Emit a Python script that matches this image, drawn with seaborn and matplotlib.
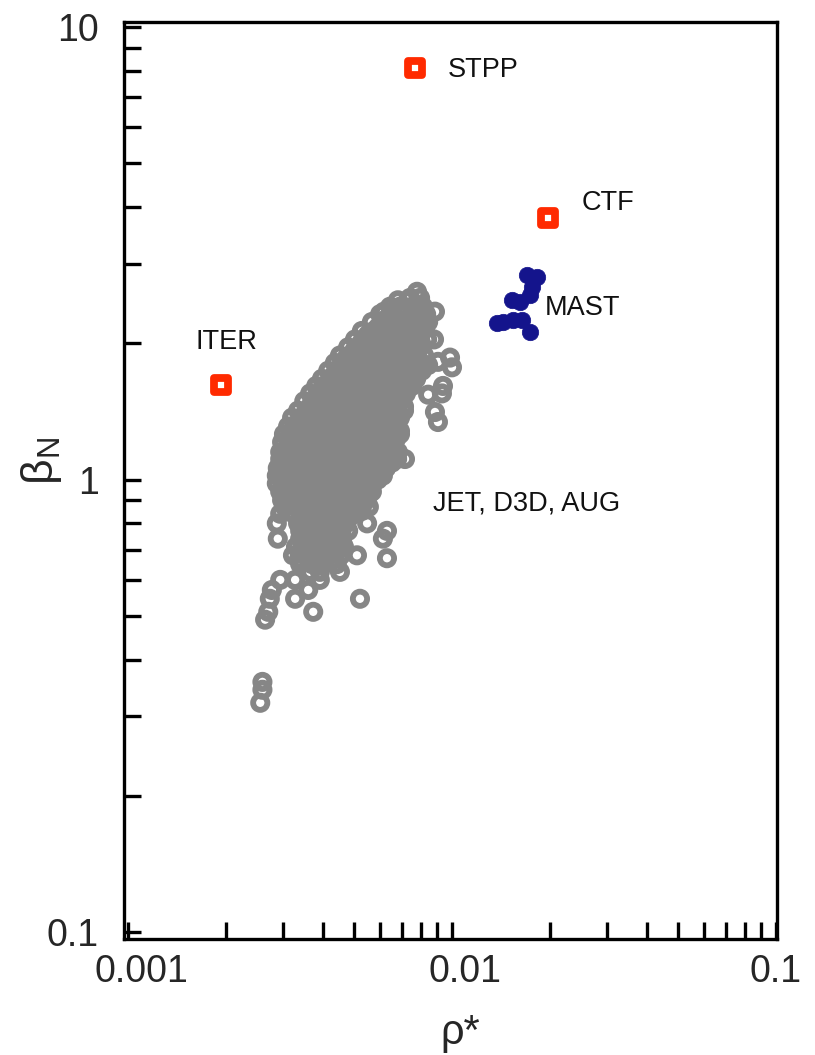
import matplotlib
matplotlib.use("Agg")
import matplotlib.pyplot as plt
import matplotlib.ticker as mticker
import matplotlib.transforms as mtransforms
import seaborn as sns
import numpy as np

# Conventional tokamak database (JET, DIII-D, ASDEX Upgrade): rho* and beta_N
rho_jet = [
    0.00780,
    0.00742, 0.00797,
    0.00681, 0.00732,
    0.00644, 0.00691, 0.00753, 0.00814,
    0.00617, 0.00886,
    0.00600, 0.00653, 0.00711, 0.00775, 0.00832,
    0.00566, 0.00617, 0.00672, 0.00732, 0.00797, 0.00844,
    0.00527, 0.00574, 0.00626, 0.00681, 0.00742, 0.00808,
    0.00502, 0.00547, 0.00595, 0.00648, 0.00706, 0.00769, 0.00838, 0.00880,
    0.00478, 0.00520, 0.00566, 0.00617, 0.00672, 0.00732, 0.00797,
    0.00451, 0.00491, 0.00535, 0.00583, 0.00635, 0.00691, 0.00753, 0.00820,
    0.00905, 0.00986, 0.01000, 0.00844,
    0.00435, 0.00471, 0.00513, 0.00558, 0.00608, 0.00662, 0.00721, 0.00786,
    0.00415, 0.00451, 0.00491, 0.00535, 0.00583, 0.00635, 0.00691, 0.00753, 0.00808,
    0.00397, 0.00432, 0.00471, 0.00513, 0.00558, 0.00608, 0.00662, 0.00721, 0.00775,
    0.00381, 0.00415, 0.00451, 0.00491, 0.00535, 0.00583, 0.00635, 0.00691, 0.00753, 0.00938,
    0.00365, 0.00397, 0.00432, 0.00471, 0.00513, 0.00558, 0.00608, 0.00662, 0.00721, 0.00844, 0.00931,
    0.00350, 0.00381, 0.00415, 0.00451, 0.00491, 0.00535, 0.00583, 0.00635, 0.00691,
    0.00335, 0.00365, 0.00397, 0.00432, 0.00471, 0.00513, 0.00558, 0.00608, 0.00662, 0.00711, 0.00886,
    0.00321, 0.00350, 0.00381, 0.00415, 0.00451, 0.00491, 0.00535, 0.00583, 0.00635, 0.00691,
    0.00905,
    0.00312, 0.00340, 0.00370, 0.00402, 0.00438, 0.00478, 0.00520, 0.00566, 0.00617, 0.00672,
    0.00303, 0.00330, 0.00360, 0.00391, 0.00426, 0.00464, 0.00505, 0.00550, 0.00600, 0.00653, 0.00691,
    0.00299, 0.00325, 0.00355, 0.00386, 0.00420, 0.00458, 0.00498, 0.00543, 0.00591, 0.00644,
    0.00295, 0.00321, 0.00350, 0.00381, 0.00415, 0.00451, 0.00491, 0.00535, 0.00583, 0.00635, 0.00681,
    0.00295, 0.00321, 0.00350, 0.00381, 0.00415, 0.00451, 0.00491, 0.00535, 0.00583, 0.00635, 0.00677, 0.00716,
    0.00290, 0.00316, 0.00345, 0.00375, 0.00409, 0.00444, 0.00484, 0.00527, 0.00574, 0.00626,
    0.00288, 0.00314, 0.00342, 0.00373, 0.00406, 0.00441, 0.00481, 0.00524, 0.00570, 0.00612,
    0.00288, 0.00314, 0.00342, 0.00373, 0.00406, 0.00441, 0.00481, 0.00524, 0.00570,
    0.00295, 0.00321, 0.00350, 0.00381, 0.00415, 0.00451, 0.00491, 0.00535, 0.00566,
    0.00299, 0.00325, 0.00355, 0.00386, 0.00420, 0.00458, 0.00498, 0.00543,
    0.00305, 0.00332, 0.00362, 0.00394, 0.00429, 0.00468, 0.00509, 0.00554,
    0.00295, 0.00325, 0.00355, 0.00386, 0.00420, 0.00458, 0.00498,
    0.00288, 0.00335, 0.00365, 0.00397, 0.00432, 0.00471, 0.00547,
    0.00340, 0.00370, 0.00402, 0.00438, 0.00478, 0.00630,
    0.00290, 0.00340, 0.00370, 0.00402, 0.00438, 0.00612,
    0.00330, 0.00360, 0.00391, 0.00426, 0.00464,
    0.00323, 0.00352, 0.00383, 0.00418, 0.00454, 0.00509, 0.00630,
    0.00340, 0.00370, 0.00402, 0.00441,
    0.00365, 0.00391, 0.00451,
    0.00295, 0.00328, 0.00391,
    0.00278, 0.00360,
    0.00274, 0.00328, 0.00520,
    0.00271, 0.00373,
    0.00265,
    0.00260, 0.00260, 0.00256,
]
beta_jet = [
    2.60,
    2.52, 2.52,
    2.49, 2.49,
    2.41, 2.41, 2.41, 2.41,
    2.35, 2.35,
    2.32, 2.32, 2.32, 2.32, 2.32,
    2.23, 2.23, 2.23, 2.23, 2.23, 2.23,
    2.13, 2.13, 2.13, 2.13, 2.13, 2.13,
    2.04, 2.04, 2.04, 2.04, 2.04, 2.04, 2.04, 2.04,
    1.96, 1.96, 1.96, 1.96, 1.96, 1.96, 1.96,
    1.88, 1.88, 1.88, 1.88, 1.88, 1.88, 1.88, 1.88,
    1.82, 1.86, 1.77, 1.79,
    1.81, 1.81, 1.81, 1.81, 1.81, 1.81, 1.81, 1.81,
    1.74, 1.74, 1.74, 1.74, 1.74, 1.74, 1.74, 1.74, 1.74,
    1.67, 1.67, 1.67, 1.67, 1.67, 1.67, 1.67, 1.67, 1.67,
    1.61, 1.61, 1.61, 1.61, 1.61, 1.61, 1.61, 1.61, 1.61, 1.61,
    1.55, 1.55, 1.55, 1.55, 1.55, 1.55, 1.55, 1.55, 1.55, 1.54, 1.55,
    1.49, 1.49, 1.49, 1.49, 1.49, 1.49, 1.49, 1.49, 1.49,
    1.42, 1.42, 1.42, 1.42, 1.42, 1.42, 1.42, 1.42, 1.42, 1.42, 1.41,
    1.37, 1.37, 1.37, 1.37, 1.37, 1.37, 1.37, 1.37, 1.37, 1.37,
    1.34,
    1.31, 1.31, 1.31, 1.31, 1.31, 1.31, 1.31, 1.31, 1.31, 1.31,
    1.26, 1.26, 1.26, 1.26, 1.26, 1.26, 1.26, 1.26, 1.26, 1.26, 1.26,
    1.21, 1.21, 1.21, 1.21, 1.21, 1.21, 1.21, 1.21, 1.21, 1.21,
    1.15, 1.15, 1.15, 1.15, 1.15, 1.15, 1.15, 1.15, 1.15, 1.15, 1.15,
    1.11, 1.11, 1.11, 1.11, 1.11, 1.11, 1.11, 1.11, 1.11, 1.11, 1.11, 1.11,
    1.06, 1.06, 1.06, 1.06, 1.06, 1.06, 1.06, 1.06, 1.06, 1.06,
    1.02, 1.02, 1.02, 1.02, 1.02, 1.02, 1.02, 1.02, 1.02, 1.02,
    0.98, 0.98, 0.98, 0.98, 0.98, 0.98, 0.98, 0.98, 0.98,
    0.94, 0.94, 0.94, 0.94, 0.94, 0.94, 0.94, 0.94, 0.94,
    0.90, 0.90, 0.90, 0.90, 0.90, 0.90, 0.90, 0.90,
    0.87, 0.87, 0.87, 0.87, 0.87, 0.87, 0.87, 0.87,
    0.84, 0.84, 0.84, 0.84, 0.84, 0.84, 0.84,
    0.80, 0.80, 0.80, 0.80, 0.80, 0.80, 0.80,
    0.77, 0.77, 0.77, 0.77, 0.77, 0.77,
    0.74, 0.74, 0.74, 0.74, 0.74, 0.74,
    0.71, 0.71, 0.71, 0.71, 0.71,
    0.68, 0.68, 0.68, 0.68, 0.68, 0.68, 0.67,
    0.65, 0.65, 0.65, 0.65,
    0.625, 0.625, 0.625,
    0.60, 0.60, 0.60,
    0.57, 0.57,
    0.545, 0.545, 0.545,
    0.51, 0.51,
    0.49,
    0.357, 0.343, 0.321,
]

# Further discharges from the same database, filling the dense core
rho_jet_core = [
    0.00626, 0.00681, 0.00742, 0.00803,
    0.00591, 0.00644, 0.00701, 0.00764, 0.00826,
    0.00550, 0.00600, 0.00653, 0.00711, 0.00775,
    0.00524, 0.00570, 0.00621, 0.00677, 0.00737, 0.00803,
    0.00498, 0.00543, 0.00591, 0.00644, 0.00701, 0.00764,
    0.00471, 0.00513, 0.00558, 0.00608, 0.00662, 0.00721, 0.00786,
    0.00454, 0.00491, 0.00535, 0.00583, 0.00635, 0.00691, 0.00753,
    0.00432, 0.00471, 0.00513, 0.00558, 0.00608, 0.00662, 0.00721, 0.00775,
    0.00415, 0.00451, 0.00491, 0.00535, 0.00583, 0.00635, 0.00691, 0.00747,
    0.00397, 0.00432, 0.00471, 0.00513, 0.00558, 0.00608, 0.00662, 0.00721,
    0.00381, 0.00415, 0.00451, 0.00491, 0.00535, 0.00583, 0.00635, 0.00691,
    0.00365, 0.00397, 0.00432, 0.00471, 0.00513, 0.00558, 0.00608, 0.00662, 0.00711,
    0.00350, 0.00381, 0.00415, 0.00451, 0.00491, 0.00535, 0.00583, 0.00635, 0.00691,
    0.00335, 0.00365, 0.00397, 0.00432, 0.00471, 0.00513, 0.00558, 0.00608, 0.00662,
    0.00325, 0.00355, 0.00386, 0.00420, 0.00458, 0.00498, 0.00543, 0.00591, 0.00644, 0.00691,
    0.00316, 0.00345, 0.00375, 0.00409, 0.00444, 0.00484, 0.00527, 0.00574, 0.00626, 0.00672,
    0.00312, 0.00340, 0.00370, 0.00402, 0.00438, 0.00478, 0.00520, 0.00566, 0.00617, 0.00662,
    0.00307, 0.00335, 0.00365, 0.00397, 0.00432, 0.00471, 0.00513, 0.00558, 0.00608, 0.00662,
    0.00307, 0.00335, 0.00365, 0.00397, 0.00432, 0.00471, 0.00513, 0.00558, 0.00608, 0.00653,
    0.00303, 0.00330, 0.00360, 0.00391, 0.00426, 0.00464, 0.00505, 0.00550, 0.00600,
    0.00301, 0.00328, 0.00357, 0.00389, 0.00423, 0.00461, 0.00502, 0.00547, 0.00591,
    0.00301, 0.00328, 0.00357, 0.00389, 0.00423, 0.00461, 0.00502, 0.00547,
    0.00307, 0.00335, 0.00365, 0.00397, 0.00432, 0.00471, 0.00513, 0.00550,
    0.00312, 0.00340, 0.00370, 0.00402, 0.00438, 0.00478, 0.00520,
    0.00318, 0.00347, 0.00378, 0.00412, 0.00448, 0.00488, 0.00527,
    0.00340, 0.00370, 0.00402, 0.00438, 0.00478,
    0.00350, 0.00381, 0.00415, 0.00451,
    0.00355, 0.00386, 0.00420, 0.00458,
    0.00355, 0.00386, 0.00420, 0.00458,
    0.00345, 0.00375, 0.00409, 0.00444,
    0.00337, 0.00367, 0.00400, 0.00435,
]
beta_jet_core = [
    2.26, 2.26, 2.26, 2.26,
    2.17, 2.17, 2.17, 2.17, 2.17,
    2.09, 2.09, 2.09, 2.09, 2.09,
    2.00, 2.00, 2.00, 2.00, 2.00, 2.00,
    1.92, 1.92, 1.92, 1.92, 1.92, 1.92,
    1.85, 1.85, 1.85, 1.85, 1.85, 1.85, 1.85,
    1.77, 1.77, 1.77, 1.77, 1.77, 1.77, 1.77,
    1.70, 1.70, 1.70, 1.70, 1.70, 1.70, 1.70, 1.70,
    1.63, 1.63, 1.63, 1.63, 1.63, 1.63, 1.63, 1.63,
    1.57, 1.57, 1.57, 1.57, 1.57, 1.57, 1.57, 1.57,
    1.51, 1.51, 1.51, 1.51, 1.51, 1.51, 1.51, 1.51,
    1.45, 1.45, 1.45, 1.45, 1.45, 1.45, 1.45, 1.45, 1.45,
    1.39, 1.39, 1.39, 1.39, 1.39, 1.39, 1.39, 1.39, 1.39,
    1.33, 1.33, 1.33, 1.33, 1.33, 1.33, 1.33, 1.33, 1.33,
    1.28, 1.28, 1.28, 1.28, 1.28, 1.28, 1.28, 1.28, 1.28, 1.28,
    1.23, 1.23, 1.23, 1.23, 1.23, 1.23, 1.23, 1.23, 1.23, 1.23,
    1.18, 1.18, 1.18, 1.18, 1.18, 1.18, 1.18, 1.18, 1.18, 1.18,
    1.13, 1.13, 1.13, 1.13, 1.13, 1.13, 1.13, 1.13, 1.13, 1.13,
    1.09, 1.09, 1.09, 1.09, 1.09, 1.09, 1.09, 1.09, 1.09, 1.09,
    1.04, 1.04, 1.04, 1.04, 1.04, 1.04, 1.04, 1.04, 1.04,
    1.00, 1.00, 1.00, 1.00, 1.00, 1.00, 1.00, 1.00, 1.00,
    0.96, 0.96, 0.96, 0.96, 0.96, 0.96, 0.96, 0.96,
    0.92, 0.92, 0.92, 0.92, 0.92, 0.92, 0.92, 0.92,
    0.886, 0.886, 0.886, 0.886, 0.886, 0.886, 0.886,
    0.852, 0.852, 0.852, 0.852, 0.852, 0.852, 0.852,
    0.818, 0.818, 0.818, 0.818, 0.818,
    0.785, 0.785, 0.785, 0.785,
    0.75, 0.75, 0.75, 0.75,
    0.728, 0.728, 0.728, 0.728,
    0.70, 0.70, 0.70, 0.70,
    0.667, 0.667, 0.667, 0.667,
]

# MAST spherical tokamak discharges
rho_mast = [0.01704, 0.01830, 0.01766, 0.01740, 0.01531, 0.01620,
            0.01436, 0.01543, 0.01644, 0.01740, 0.01377]
beta_mast = [2.83, 2.80, 2.66, 2.56, 2.49, 2.47,
             2.23, 2.25, 2.25, 2.12, 2.22]

# Projected devices
device_names = ["ITER", "STPP", "CTF"]
rho_dev = [0.00194, 0.00769, 0.0198]
beta_dev = [1.62, 8.12, 3.78]

# Annotation text and anchor (left edge, vertical centre) in data units
label_text = ["STPP", "CTF", "MAST", "ITER", "JET, D3D, AUG"]
label_rho = [0.00972, 0.02518, 0.01937, 0.00162, 0.00874]
label_beta = [8.03, 4.08, 2.40, 2.01, 0.883]

x_ticks = [0.001, 0.01, 0.1]
x_ticklabels = ["0.001", "0.01", "0.1"]
y_ticks = [0.1, 1, 10]
y_ticklabels = ["0.1", "1", "10"]

sns.set_theme(style="ticks")
plt.rcParams["font.family"] = ["Liberation Sans", "DejaVu Sans"]
plt.rcParams["mathtext.fontset"] = "custom"
plt.rcParams["mathtext.rm"] = "Liberation Sans"
plt.rcParams["mathtext.it"] = "Liberation Sans:italic"
plt.rcParams["mathtext.bf"] = "Liberation Sans:bold"

fig = plt.figure(figsize=(8.15, 10.55), dpi=100)
ax = fig.add_axes([0.1521, 0.1100, 0.8013, 0.8691])

gray = "#868686"
sns.scatterplot(x=rho_jet + rho_jet_core, y=beta_jet + beta_jet_core, ax=ax,
                s=105, color=gray, edgecolor=gray, linewidth=4.2, zorder=2,
                legend=False)
ax.collections[-1].set_facecolor("none")

navy = "#14148c"
sns.scatterplot(x=rho_mast, y=beta_mast, ax=ax, s=140, color=navy,
                edgecolor=navy, linewidth=0.5, zorder=3, legend=False)

red = "#ff2a00"
sns.scatterplot(x=rho_dev, y=beta_dev, ax=ax, s=110, marker="s", color="white",
                edgecolor=red, linewidth=5.6, zorder=4, legend=False)

for txt, xv, yv in zip(label_text, label_rho, label_beta):
    ax.text(xv, yv, txt, fontsize=19.5, ha="left", va="center",
            color="#111111", zorder=5)

ax.set_xscale("log")
ax.set_yscale("log")
ax.set_xlim(0.000972, 0.1007)
ax.set_ylim(0.0965, 10.26)

ax.xaxis.set_major_locator(mticker.FixedLocator(x_ticks))
ax.xaxis.set_major_formatter(mticker.FixedFormatter(x_ticklabels))
ax.yaxis.set_major_locator(mticker.FixedLocator(y_ticks))
ax.yaxis.set_major_formatter(mticker.FixedFormatter(y_ticklabels))
ax.xaxis.set_minor_locator(mticker.LogLocator(base=10, subs=np.arange(2, 10)))
ax.yaxis.set_minor_locator(mticker.LogLocator(base=10, subs=np.arange(2, 10)))
ax.xaxis.set_minor_formatter(mticker.NullFormatter())
ax.yaxis.set_minor_formatter(mticker.NullFormatter())

ax.tick_params(axis="both", which="both", direction="in", length=12,
               width=2.4, color="black", top=False, right=False)
ax.tick_params(axis="x", which="major", labelsize=27, pad=11)
ax.tick_params(axis="y", which="major", labelsize=27, pad=18)

# nudge the two left x tick labels slightly to the right
shift = mtransforms.ScaledTranslation(13 / 100, 0, fig.dpi_scale_trans)
for lbl in ax.get_xticklabels()[:2]:
    lbl.set_transform(lbl.get_transform() + shift)

for sp in ax.spines.values():
    sp.set_visible(True)
    sp.set_linewidth(2.4)
    sp.set_color("black")

ax.set_xlabel("")
ax.set_ylabel("")
ax.text(0.5145, -0.1025, "ρ*", transform=ax.transAxes, fontsize=30,
        ha="center", va="center")
ax.text(-0.126, 0.521, r"$\mathrm{\beta}_{\mathrm{N}}$", transform=ax.transAxes,
        fontsize=32, rotation=90, ha="center", va="center")

fig.savefig("out.png", dpi=100)
